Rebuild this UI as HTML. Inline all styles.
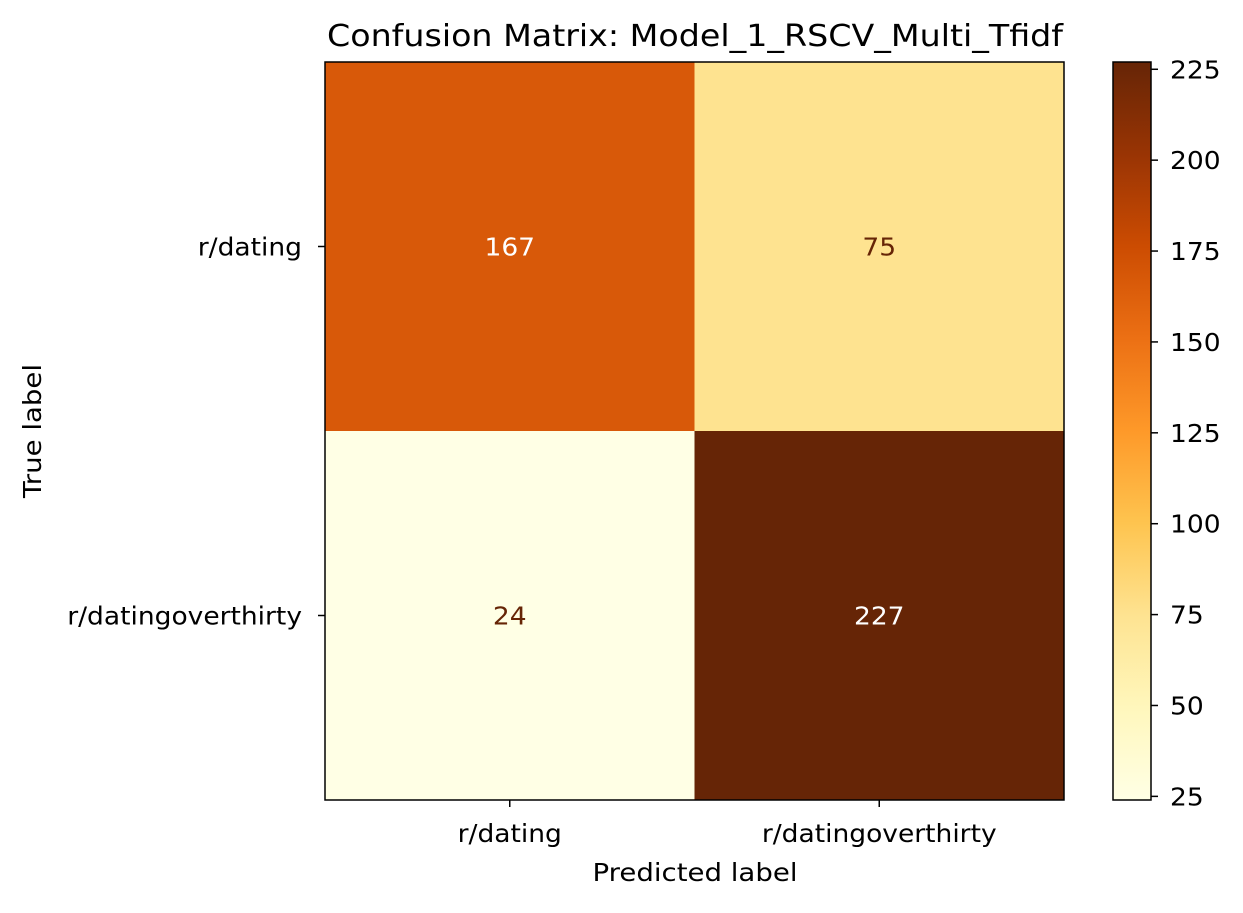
<!DOCTYPE html>
<html><head><meta charset="utf-8"><style>
body{margin:0;background:#fff;}
svg text{font-family:"DejaVu Sans","Liberation Sans",sans-serif;fill:#000;}
</style></head><body>
<svg id="chart" width="1243" height="908" xmlns="http://www.w3.org/2000/svg">
<defs>
<linearGradient id="cmap" x1="0" y1="1" x2="0" y2="0">
<stop offset="0" stop-color="#ffffe5"/><stop offset="0.125" stop-color="#fff7bc"/><stop offset="0.25" stop-color="#fee391"/><stop offset="0.375" stop-color="#fec44f"/><stop offset="0.5" stop-color="#fe9929"/><stop offset="0.625" stop-color="#ec7014"/><stop offset="0.75" stop-color="#cc4c02"/><stop offset="0.875" stop-color="#993404"/><stop offset="1" stop-color="#662506"/>
</linearGradient>
</defs>
<text x="695" y="46" font-size="30" text-anchor="middle" textLength="736" lengthAdjust="spacingAndGlyphs">Confusion Matrix: Model_1_RSCV_Multi_Tfidf</text>
<g id="cells"></g>
<rect x="325" y="62" width="739" height="738" fill="none" stroke="#000" stroke-width="1.5"/>
<g id="axes"></g>
<text x="695" y="881" font-size="25" text-anchor="middle" textLength="205" lengthAdjust="spacingAndGlyphs">Predicted label</text>
<text transform="translate(41,431) rotate(-90)" font-size="25" text-anchor="middle" textLength="134" lengthAdjust="spacingAndGlyphs">True label</text>
<rect x="1113" y="62" width="38" height="738" fill="url(#cmap)" stroke="#000" stroke-width="1.5"/>
<g id="cbticks"></g>
</svg>
<script>
const labels = ["r/dating","r/datingoverthirty"];
const matrix = [[167,75],[24,227]];
const cbTicks = [25,50,75,100,125,150,175,200,225];
const vmin = 24, vmax = 227;
const stops=[[255,255,229],[255,247,188],[254,227,145],[254,196,79],[254,153,41],[236,112,20],[204,76,2],[153,52,4],[102,37,6]];
function cmap(v){let t=(v-vmin)/(vmax-vmin);t=Math.max(0,Math.min(1,t))*8;let i=Math.min(7,Math.floor(t)),f=t-i;
const c=stops[i].map((a,k)=>Math.round(a+(stops[i+1][k]-a)*f));return `rgb(${c})`;}
const NS="http://www.w3.org/2000/svg";
const X0=325,Y0=62,W=739,H=738;
const n=labels.length,cw=W/n,ch=H/n;
const FS=25, SX=1.06;
const cells=document.getElementById('cells'),axes=document.getElementById('axes'),cb=document.getElementById('cbticks');
function mk(tag,attrs,parent,txt){const e=document.createElementNS(NS,tag);for(const k in attrs)e.setAttribute(k,attrs[k]);if(txt!==undefined)e.textContent=txt;parent.appendChild(e);return e;}
function txt(x,y,anchor,s,parent,fill){
 return mk('text',{'font-size':FS,'text-anchor':anchor,transform:`translate(${x},${y}) scale(${SX},1)`,style:fill?'fill:'+fill:''},parent,s);
}
for(let r=0;r<n;r++)for(let c=0;c<n;c++){const v=matrix[r][c];
 const rc=mk('rect',{x:X0+c*cw,y:Y0+r*ch,width:cw+0.5,height:ch+0.5,fill:cmap(v)},cells);
 
 
 const t=txt(X0+(c+0.5)*cw,Y0+(r+0.5)*ch+9,'middle',String(v),cells,(v-vmin)/(vmax-vmin)>0.5?'#fff':'#662506');
 
 
}
labels.forEach((l,i)=>{const x=X0+(i+0.5)*cw,y=Y0+(i+0.5)*ch;
 mk('line',{x1:x,y1:800,x2:x,y2:807,stroke:'#000','stroke-width':1.5},axes);
 const tx=txt(x,842,'middle',l,axes);
 
 
 mk('line',{x1:318,y1:y,x2:325,y2:y,stroke:'#000','stroke-width':1.5},axes);
 const ty=txt(302,y+9,'end',l,axes);
 
 
});
cbTicks.forEach(v=>{const y=Y0+(vmax-v)/(vmax-vmin)*H;
 mk('line',{x1:1151,y1:y,x2:1158,y2:y,stroke:'#000','stroke-width':1.5},cb);
 const t=txt(1170,y+9,'start',String(v),cb);
 
 
});
</script>
</body></html>
